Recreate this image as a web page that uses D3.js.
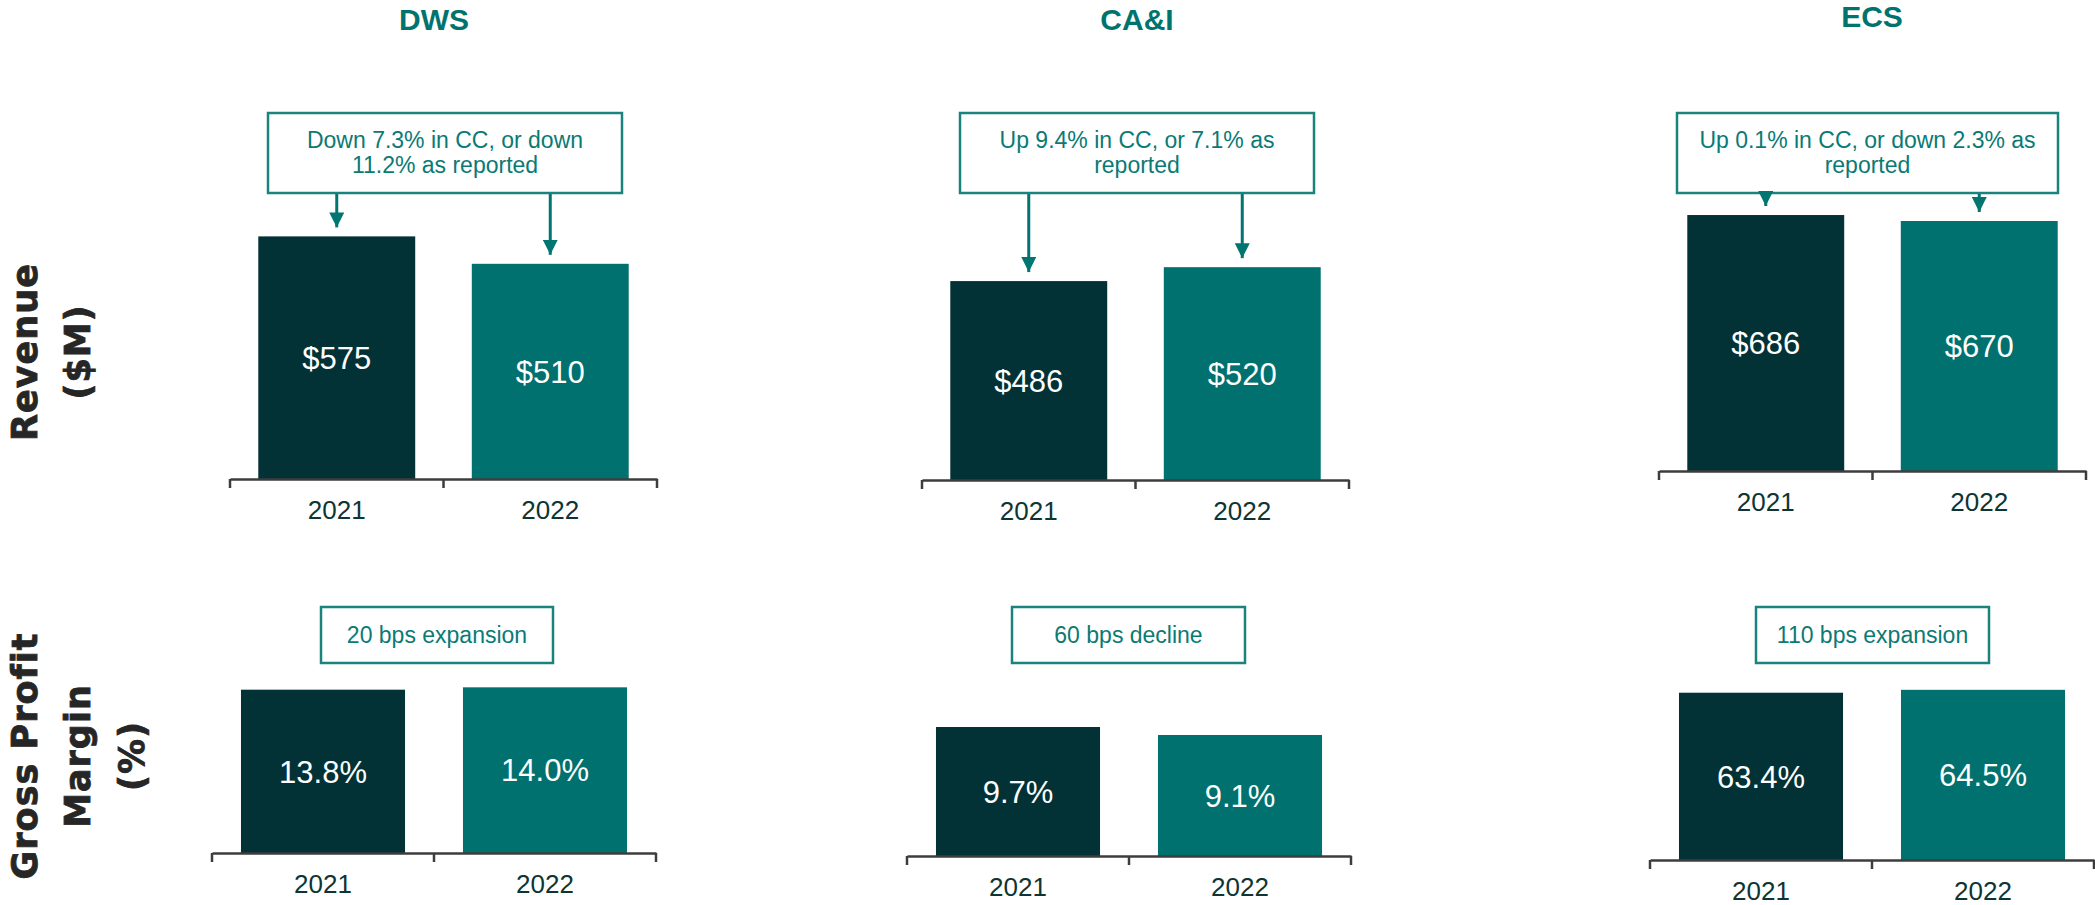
<!DOCTYPE html>
<html>
<head>
<meta charset="utf-8">
<script src="https://cdn.jsdelivr.net/npm/d3@7"></script>
<style>
body{margin:0;background:#fff;}
svg{display:block;}
</style>
</head>
<body>
<svg id="chart" width="2095" height="905"></svg>
<script>
// data
var segments = ["DWS", "CA&I", "ECS"];
var years = ["2021", "2022"];
var revenue2021 = [575, 486, 686];
var revenue2022 = [510, 520, 670];
var margin2021 = [13.8, 9.7, 63.4];
var margin2022 = [14.0, 9.1, 64.5];
var revenueNotes = [
	["Down 7.3% in CC, or down", "11.2% as reported"],
	["Up 9.4% in CC, or 7.1% as", "reported"],
	["Up 0.1% in CC, or down 2.3% as", "reported"]
];
var marginNotes = ["20 bps expansion", "60 bps decline", "110 bps expansion"];
var revenueLabel = ["Revenue", "($M)"];
var marginLabel = ["Gross Profit", "Margin", "(%)"];

// layout (pixels) for each small panel
var revLayout = [
	{x0:230, x1:657, base:479, yMax:711, titleX:434, titleY:30, box:[268,113,622,193]},
	{x0:922, x1:1349, base:480, yMax:733, titleX:1137, titleY:30, box:[960,113,1314,193]},
	{x0:1659, x1:2086, base:471, yMax:804, titleX:1872, titleY:27, box:[1677,113,2058,193]}
];
var gpmLayout = [
	{x0:212, x1:656, base:853, yMax:16.9, box:[321,607,553,663]},
	{x0:907, x1:1351, base:856, yMax:15.04, box:[1012,607,1245,663]},
	{x0:1650, x1:2094, base:860, yMax:75.8, box:[1756,607,1989,663]}
];

var barColors = ["#023236", "#00716F"];
var teal = "#0A7A75";
var font = "'Liberation Sans', Arial, sans-serif";
var svg = d3.select("#chart");

// arrow head
svg.append("defs").append("marker")
	.attr("id", "head")
	.attr("viewBox", "0 0 10 10")
	.attr("refX", 10).attr("refY", 5)
	.attr("markerWidth", 5).attr("markerHeight", 5)
	.attr("markerUnits", "strokeWidth")
	.attr("orient", "auto")
	.append("path").attr("d", "M0,0 L10,5 L0,10 z").attr("fill", "#007572");

function drawPanel(L, values, fmt, rangeH, pad){
	var g = svg.append("g");
	var x = d3.scaleBand().domain(years).range([L.x0, L.x1])
		.paddingInner(pad).paddingOuter(pad / 2);
	var y = d3.scaleLinear().domain([0, L.yMax]).range([L.base, L.base - rangeH]);

	g.selectAll("rect.bar").data(values).enter().append("rect")
		.attr("class", "bar")
		.attr("x", function(d, i){ return x(years[i]); })
		.attr("y", function(d){ return y(d); })
		.attr("width", x.bandwidth())
		.attr("height", function(d){ return y(0) - y(d); })
		.attr("fill", function(d, i){ return barColors[i]; });

	g.selectAll("text.val").data(values).enter().append("text")
		.attr("x", function(d, i){ return x(years[i]) + x.bandwidth() / 2; })
		.attr("y", function(d){ return (y(d) + y(0)) / 2; })
		.attr("dy", "0.36em")
		.attr("text-anchor", "middle")
		.attr("font-family", font).attr("font-size", 31)
		.attr("fill", "#fff")
		.text(fmt);

	// axis with category labels
	var axis = d3.axisBottom(x).tickSize(0).tickSizeOuter(0).tickPadding(22);
	var ag = g.append("g").attr("transform", "translate(0," + L.base + ")").call(axis);
	ag.select(".domain").attr("stroke", "#3d3d3d").attr("stroke-width", 2.5);
	ag.selectAll(".tick text").attr("font-family", font).attr("font-size", 26).attr("fill", "#0E3534");

	// boundary ticks
	var bounds = years.map(function(c){ return x(c) - x.step() * pad / 2; }).concat([L.x1]);
	g.selectAll("line.bt").data(bounds).enter().append("line")
		.attr("x1", function(d){ return d; }).attr("x2", function(d){ return d; })
		.attr("y1", L.base).attr("y2", L.base + 9)
		.attr("stroke", "#3d3d3d").attr("stroke-width", 2.5);

	return {x:x, y:y, g:g};
}

function drawBox(g, b, lines, top){
	g.append("rect")
		.attr("x", b[0]).attr("y", b[1])
		.attr("width", b[2] - b[0]).attr("height", b[3] - b[1])
		.attr("fill", "#fff").attr("stroke", "#1B837E").attr("stroke-width", 2.5);
	g.selectAll("text.note" + b[0]).data(lines).enter().append("text")
		.attr("x", (b[0] + b[2]) / 2)
		.attr("y", function(d, i){ return b[1] + top + i * 25; })
		.attr("text-anchor", "middle")
		.attr("font-family", font).attr("font-size", 23)
		.attr("fill", teal)
		.text(function(d){ return d; });
}

segments.forEach(function(s, k){
	var L = revLayout[k];
	var vals = [revenue2021[k], revenue2022[k]];
	var p = drawPanel(L, vals, function(d){ return "$" + d; }, 300, 0.265);

	svg.append("text")
		.attr("x", L.titleX).attr("y", L.titleY)
		.attr("text-anchor", "middle")
		.attr("font-family", font).attr("font-weight", "bold").attr("font-size", 30)
		.attr("fill", "#00736E")
		.text(s);

	drawBox(p.g, L.box, revenueNotes[k], 35);

	// arrows from the note box down to each bar
	p.g.selectAll("line.arrow").data(vals).enter().append("line")
		.attr("x1", function(d, i){ return p.x(years[i]) + p.x.bandwidth() / 2; })
		.attr("x2", function(d, i){ return p.x(years[i]) + p.x.bandwidth() / 2; })
		.attr("y1", L.box[3] + 1)
		.attr("y2", function(d){ return p.y(d) - 9; })
		.attr("stroke", "#007572").attr("stroke-width", 3)
		.attr("marker-end", "url(#head)");

	var M = gpmLayout[k];
	var q = drawPanel(M, [margin2021[k], margin2022[k]], function(d){ return d.toFixed(1) + "%"; }, 200, 0.261);
	drawBox(q.g, M.box, [marginNotes[k]], 36);
});

// row labels (rotated)
function rowLabel(lines, cx, cy, xs){
	var t = svg.append("g").attr("transform", "translate(" + cx + "," + cy + ") rotate(-90)");
	t.selectAll("text").data(lines).enter().append("text")
		.attr("x", 0)
		.attr("y", function(d, i){ return xs[i]; })
		.attr("text-anchor", "middle")
		.attr("font-family", "'DejaVu Sans', sans-serif")
		.attr("font-weight", "bold").attr("font-size", 35)
		.attr("letter-spacing", 1)
		.attr("fill", "#262626")
		.attr("stroke", "#262626").attr("stroke-width", 0.8)
		.text(function(d){ return d; });
}
rowLabel(revenueLabel, 0, 352, [37, 90]);
rowLabel(marginLabel, 0, 756, [37, 90, 144]);
</script>
</body>
</html>
